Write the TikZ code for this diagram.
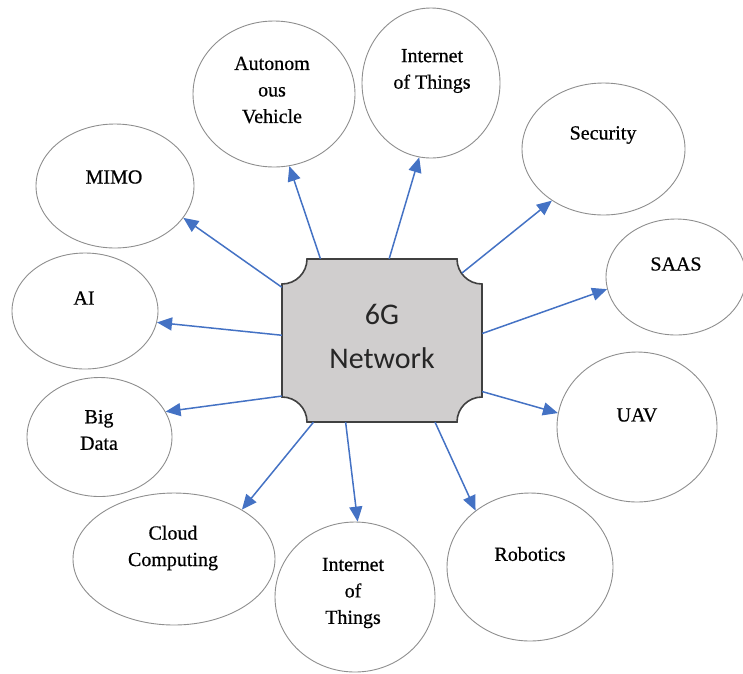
\documentclass[tikz,border=0pt]{standalone}
\usepackage{fontspec}
\setmainfont{Liberation Serif}
\newfontfamily\labelfont[FakeBold=0.6]{Liberation Serif}
\newfontfamily\hubfont{Carlito}
\usetikzlibrary{shapes.geometric,arrows.meta}
\definecolor{linkblue}{HTML}{4472C4}
\definecolor{hubfill}{HTML}{D0CECE}
\definecolor{hubedge}{HTML}{404040}
\definecolor{bubbleedge}{HTML}{8E8E8E}
\tikzset{
  bubble/.style={ellipse, draw=bubbleedge, line width=0.9pt, inner sep=0pt},
  bubbletext/.style={align=center, font=\labelfont\fontsize{20}{26.5}\selectfont, inner sep=0pt},
  link/.style={draw=linkblue, line width=1.5pt, -{Triangle[length=15pt,width=13pt]}},
}
\begin{document}
\begin{tikzpicture}[x=1pt, y=-1pt]
\useasboundingbox (0,0) rectangle (743,673);

% outer bubbles
\node[bubble, minimum width=158pt, minimum height=124pt] (mimo)  at (115,186) {};
\node[bubble, minimum width=162pt, minimum height=146pt] (auto)  at (274,94) {};
\node[bubble, minimum width=138pt, minimum height=150pt] (iota)  at (431,83) {};
\node[bubble, minimum width=163pt, minimum height=132pt] (sec)   at (603.5,149) {};
\node[bubble, minimum width=140pt, minimum height=116pt] (saas)  at (676,277) {};
\node[bubble, minimum width=160pt, minimum height=150pt] (uav)   at (637,427) {};
\node[bubble, minimum width=166pt, minimum height=148pt] (rob)   at (530,567) {};
\node[bubble, minimum width=160pt, minimum height=150pt] (iotb)  at (355,597) {};
\node[bubble, minimum width=202pt, minimum height=132pt] (cloud) at (174,559) {};
\node[bubble, minimum width=145pt, minimum height=119pt] (big)   at (99.5,437) {};
\node[bubble, minimum width=146pt, minimum height=116pt] (ai)    at (85,311) {};

% bubble captions
\node[bubbletext] (mimot)  at (114,177) {MIMO};
\node[bubbletext] (autot)  at (272,90)  {Autonom\\ous\\Vehicle};
\node[bubbletext] (iotat)  at (432,71)  {Internet\\of Things};
\node[bubbletext] (sect)   at (603,135) {Security};
\node[bubbletext] (saast)  at (676,264) {SAAS};
\node[bubbletext] (uavt)   at (637,415) {UAV};
\node[bubbletext] (robt)   at (530,554) {Robotics};
\node[bubbletext] (iotbt)  at (353,593) {Internet\\of\\Things};
\node[bubbletext] (cloudt) at (173,548) {Cloud\\Computing};
\node[bubbletext] (bigt)   at (99,430)  {Big\\Data};
\node[bubbletext] (ait)    at (84,298)  {AI};

% central plaque with concave corners
\draw[fill=hubfill, draw=hubedge, line width=1.6pt]
  (307,259) -- (457,259) .. controls (457,272.8) and (468.2,284) .. (482,284)
  -- (482,397) .. controls (468.2,397) and (457,408.2) .. (457,422)
  -- (307,422) .. controls (307,408.2) and (295.8,397) .. (282,397)
  -- (282,284) .. controls (295.8,284) and (307,272.8) .. (307,259) -- cycle;
\node[rectangle, minimum width=200pt, minimum height=163pt, inner sep=0pt] (net) at (382,340.5) {};
\node[align=center, font=\hubfont\fontsize{30}{44}\selectfont, text=black!85, inner sep=0pt]
  (nett) at (382,336) {6G\\Network};
\coordinate (secfrom) at (462,273);

% connectors
\draw[link] (net.152.5) -- (mimo.-25);
\draw[link] (net.127.3) -- (auto.-78.4);
\draw[link] (net.85.8)  -- (iota.-99.2);
\draw[link] (secfrom)   -- (sec.-135.3);
\draw[link] (net.4.3)   -- (saas.190.5);
\draw[link] (net.-27.7) -- (uav.170);
\draw[link] (net.-57)   -- (rob.134);
\draw[link] (net.-114.4) -- (iotb.88.5);
\draw[link] (net.-130.2) -- (cloud.36.2);
\draw[link] (net.-151)  -- (big.21.8);
\draw[link] (net.177.4) -- (ai.-9.6);
\end{tikzpicture}
\end{document}
